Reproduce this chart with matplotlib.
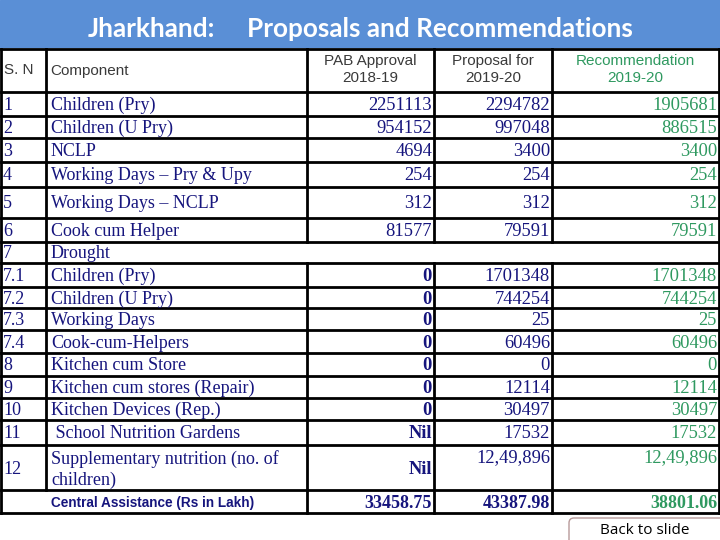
import matplotlib.pyplot as plt
from matplotlib.patches import Rectangle, FancyBboxPatch

# table content
sn = ["1", "2", "3", "4", "5", "6", "7", "7.1", "7.2", "7.3", "7.4",
      "8", "9", "10", "11", "12"]
components = ["Children (Pry)", "Children (U Pry)", "NCLP",
              "Working Days \u2013 Pry & Upy", "Working Days \u2013 NCLP",
              "Cook cum Helper", "Drought", "Children (Pry)",
              "Children (U Pry)", "Working Days", "Cook-cum-Helpers",
              "Kitchen cum Store", "Kitchen cum stores (Repair)",
              "Kitchen Devices (Rep.)", " School Nutrition Gardens",
              "Supplementary nutrition (no. of\nchildren)"]
pab = ["2251113", "954152", "4694", "254", "312", "81577", "",
       "0", "0", "0", "0", "0", "0", "0", "Nil", "Nil"]
proposal = ["2294782", "997048", "3400", "254", "312", "79591", "",
            "1701348", "744254", "25", "60496", "0", "12114", "30497",
            "17532", "12,49,896"]
recommend = ["1905681", "886515", "3400", "254", "312", "79591", "",
             "1701348", "744254", "25", "60496", "0", "12114", "30497",
             "17532", "12,49,896"]
headers = ["S. N", "Component", "PAB Approval\n2018-19",
           "Proposal for\n2019-20", "Recommendation\n2019-20"]
total_label = "Central Assistance (Rs in Lakh)"
totals = ["33458.75", "43387.98", "38801.06"]

# layout in pixels
cols = [1, 46, 307, 434, 552, 719]
rows = [49, 92, 116, 138, 162, 187, 218, 242, 263, 287, 308, 330, 353,
        376, 398, 420, 445, 490, 513]
navy = "#16157d"
green = "#2f9960"
serif = ["Liberation Serif", "DejaVu Serif"]
sans = ["Liberation Sans", "DejaVu Sans"]

fig = plt.figure(figsize=(7.2, 5.4), dpi=100)
ax = fig.add_axes([0, 0, 1, 1])
ax.set_xlim(0, 720)
ax.set_ylim(540, 0)
ax.axis("off")

# title band
ax.add_patch(Rectangle((0, 0), 720, 47, color="#5a8fd6", zorder=0))
ax.text(88, 29, "Jharkhand:", color="white", fontsize=18.8, fontweight="bold",
        family="Lato", va="center", ha="left")
ax.text(247, 29, "Proposals and Recommendations", color="white", fontsize=18.8,
        fontweight="bold", family="Lato", va="center", ha="left")

# grid lines
lw = 2
for y in rows:
    ax.plot([cols[0], cols[-1]], [y, y], color="black", lw=lw,
            solid_capstyle="projecting")
merged = rows[7], rows[8]  # Drought row
ax.plot([cols[0], cols[0]], [rows[0], rows[-1]], color="black", lw=lw)
ax.plot([cols[-1], cols[-1]], [rows[0], rows[-1]], color="black", lw=lw)
ax.plot([cols[1], cols[1]], [rows[0], rows[-2]], color="black", lw=lw)
for x in cols[2:5]:
    ax.plot([x, x], [rows[0], merged[0]], color="black", lw=lw)
    ax.plot([x, x], [merged[1], rows[-1]], color="black", lw=lw)

# header
hy = (rows[0] + rows[1]) / 2
ax.text(4, hy, headers[0], family=sans, fontsize=11, color="#3a3a3a",
        va="center", ha="left")
ax.text(50, hy, headers[1], family=sans, fontsize=11, color="#3a3a3a",
        va="center", ha="left")
for i, h in enumerate(headers[2:]):
    cx = (cols[i + 2] + cols[i + 3]) / 2
    c = green if i == 2 else "#3a3a3a"
    ax.text(cx, hy - 1, h, family=sans, fontsize=11, color=c,
            va="center", ha="center", linespacing=1.25)

# body rows
for i in range(len(sn)):
    top, bot = rows[i + 1], rows[i + 2]
    base = (top + bot) / 2 + 6
    ax.text(3, base, sn[i], family=serif, fontsize=13, color=navy,
            va="baseline", ha="left")
    lines = components[i].split("\n")
    if len(lines) == 1:
        ax.text(51, base, lines[0], family=serif, fontsize=13, color=navy,
                va="baseline", ha="left")
    else:
        for k, ln in enumerate(lines):
            ax.text(51, top + 19 + 21 * k, ln, family=serif, fontsize=13,
                    color=navy, va="baseline", ha="left")
    vals = [pab[i], proposal[i], recommend[i]]
    for j, v in enumerate(vals):
        if not v:
            continue
        y = top + 17 if "," in v else base
        bold = j == 0 and v in ("0", "Nil")
        ax.text(cols[j + 3] - 2, y, v, family=serif, fontsize=13.3,
                color=green if j == 2 else navy,
                fontweight="bold" if bold else "normal",
                va="baseline", ha="right")

# totals row
ty = (rows[-2] + rows[-1]) / 2
ax.text(153, ty + 1.5, total_label, family=sans, fontsize=9.8,
        fontweight="bold", color=navy, va="center", ha="center")
for j, v in enumerate(totals):
    ax.text(cols[j + 3] - 2, ty + 6, v, family=serif, fontsize=13,
            fontweight="bold", color=green if j == 2 else navy,
            va="baseline", ha="right")

# back button
ax.add_patch(FancyBboxPatch((569, 518), 160, 30,
                            boxstyle="round,pad=0,rounding_size=5",
                            fc="white", ec="#b89a9a", lw=1))
ax.text(645, 531, "Back to slide", family=["Open Sans", "DejaVu Sans"],
        fontsize=11, color="black", va="center", ha="center")

fig.savefig("out.png", dpi=100)
